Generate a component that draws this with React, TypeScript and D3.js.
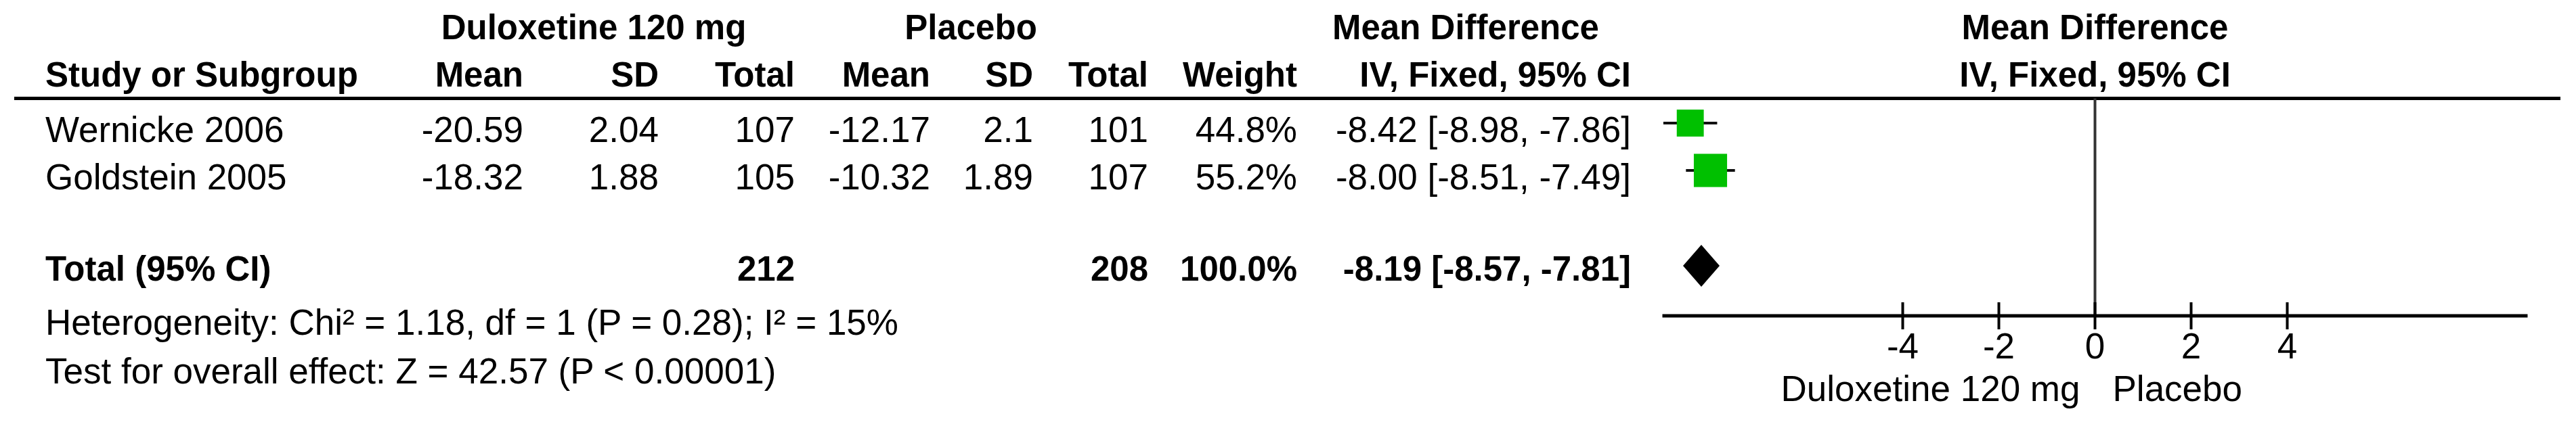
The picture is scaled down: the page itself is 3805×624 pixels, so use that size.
import React from "react";
import * as d3 from "d3";

// ---------- data ----------
const studies = ["Wernicke 2006", "Goldstein 2005"];
const expMean = ["-20.59", "-18.32"];
const expSD = ["2.04", "1.88"];
const expTotal = [107, 105];
const ctlMean = ["-12.17", "-10.32"];
const ctlSD = ["2.1", "1.89"];
const ctlTotal = [101, 107];
const weights = [44.8, 55.2];
const md = [-8.42, -8.0];
const ciLow = [-8.98, -8.51];
const ciHigh = [-7.86, -7.49];

const totalLabel = "Total (95% CI)";
const totalExp = 212;
const totalCtl = 208;
const totalWeight = 100.0;
const totalMd = -8.19;
const totalLow = -8.57;
const totalHigh = -7.81;

const heterogeneity = "Heterogeneity: Chi\u00B2 = 1.18, df = 1 (P = 0.28); I\u00B2 = 15%";
const overall = "Test for overall effect: Z = 42.57 (P < 0.00001)";

const expName = "Duloxetine 120 mg";
const ctlName = "Placebo";
const ticks = [-4, -2, 0, 2, 4];
const axisDomain = [-9, 9];

// ---------- layout ----------
const W = 3805;
const H = 624;
const FONT = "'Liberation Sans', Arial, Helvetica, sans-serif";
const FS = 53;
const FSB = 51;

const COL = {
  study: 67,
  eMean: 773,
  eSD: 973,
  eTot: 1174,
  cMean: 1374,
  cSD: 1526,
  cTot: 1696,
  weight: 1916,
  ci: 2409,
};

const HEAD1 = 58;
const HEAD2 = 128;
const RULE_Y = 145.5;
const ROW_BASE = [210, 280];
const TOTAL_BASE = 415;
const HET_BASE = 495;
const TEST_BASE = 567;
const AXIS_Y = 467;
const TICK_LABEL = 530;
const FAVOURS = 593;

const fmt2 = (v: number) => v.toFixed(2);
const ciText = (m: number, l: number, h: number) => `${fmt2(m)} [${fmt2(l)}, ${fmt2(h)}]`;

function T({ x, y, children, anchor = "start", bold = false }: any) {
  return (
    <text
      x={x}
      y={y}
      textAnchor={anchor}
      fontFamily={FONT}
      fontSize={bold ? FSB : FS}
      fontWeight={bold ? "bold" : "normal"}
      fill="#000"
    >
      {children}
    </text>
  );
}

export default function App() {
  const x = d3.scaleLinear().domain(axisDomain).range([2455.5, 3733.5]);
  const side = d3.scaleLinear().domain([0, 100]).range([0, 89]);
  const x0 = x(0);

  const diamondY = TOTAL_BASE - 22;
  const diamondH = 31;
  const diamond = d3.line()([
    [x(totalLow), diamondY],
    [x(totalMd), diamondY - diamondH],
    [x(totalHigh), diamondY],
    [x(totalMd), diamondY + diamondH],
  ]) + "Z";

  return (
    <svg
      width={W}
      height={H}
      style={{ position: "absolute", left: 0, top: 0, display: "block", background: "#fff" }}
    >
      <rect x={0} y={0} width={W} height={H} fill="#fff" />

      {/* group headers */}
      <T x={877} y={HEAD1} anchor="middle" bold>{expName}</T>
      <T x={1434} y={HEAD1} anchor="middle" bold>{ctlName}</T>
      <T x={2165} y={HEAD1} anchor="middle" bold>Mean Difference</T>
      <T x={x0} y={HEAD1} anchor="middle" bold>Mean Difference</T>

      {/* column headers */}
      <T x={COL.study} y={HEAD2} bold>Study or Subgroup</T>
      <T x={COL.eMean} y={HEAD2} anchor="end" bold>Mean</T>
      <T x={COL.eSD} y={HEAD2} anchor="end" bold>SD</T>
      <T x={COL.eTot} y={HEAD2} anchor="end" bold>Total</T>
      <T x={COL.cMean} y={HEAD2} anchor="end" bold>Mean</T>
      <T x={COL.cSD} y={HEAD2} anchor="end" bold>SD</T>
      <T x={COL.cTot} y={HEAD2} anchor="end" bold>Total</T>
      <T x={COL.weight} y={HEAD2} anchor="end" bold>Weight</T>
      <T x={COL.ci} y={HEAD2} anchor="end" bold>IV, Fixed, 95% CI</T>
      <T x={x0} y={HEAD2} anchor="middle" bold>IV, Fixed, 95% CI</T>

      {/* header rule */}
      <line x1={21} x2={3782} y1={RULE_Y} y2={RULE_Y} stroke="#000" strokeWidth={5} />

      {/* zero line */}
      <line x1={x0} x2={x0} y1={RULE_Y} y2={AXIS_Y} stroke="#333" strokeWidth={4} />

      {/* study rows */}
      {studies.map((s, i) => {
        const yb = ROW_BASE[i];
        const ym = yb - 28;
        const sz = side(weights[i]);
        return (
          <g key={s}>
            <T x={COL.study} y={yb}>{s}</T>
            <T x={COL.eMean} y={yb} anchor="end">{expMean[i]}</T>
            <T x={COL.eSD} y={yb} anchor="end">{expSD[i]}</T>
            <T x={COL.eTot} y={yb} anchor="end">{expTotal[i]}</T>
            <T x={COL.cMean} y={yb} anchor="end">{ctlMean[i]}</T>
            <T x={COL.cSD} y={yb} anchor="end">{ctlSD[i]}</T>
            <T x={COL.cTot} y={yb} anchor="end">{ctlTotal[i]}</T>
            <T x={COL.weight} y={yb} anchor="end">{weights[i].toFixed(1)}%</T>
            <T x={COL.ci} y={yb} anchor="end">{ciText(md[i], ciLow[i], ciHigh[i])}</T>
            <line x1={x(ciLow[i])} x2={x(ciHigh[i])} y1={ym} y2={ym} stroke="#111" strokeWidth={4} />
            <rect x={x(md[i]) - sz / 2} y={ym - sz / 2} width={sz} height={sz} fill="#00C000" />
          </g>
        );
      })}

      {/* total row */}
      <T x={COL.study} y={TOTAL_BASE} bold>{totalLabel}</T>
      <T x={COL.eTot} y={TOTAL_BASE} anchor="end" bold>{totalExp}</T>
      <T x={COL.cTot} y={TOTAL_BASE} anchor="end" bold>{totalCtl}</T>
      <T x={COL.weight} y={TOTAL_BASE} anchor="end" bold>{totalWeight.toFixed(1)}%</T>
      <T x={COL.ci} y={TOTAL_BASE} anchor="end" bold>{ciText(totalMd, totalLow, totalHigh)}</T>
      <path d={diamond} fill="#000" />

      <T x={COL.study} y={HET_BASE}>{heterogeneity}</T>
      <T x={COL.study} y={TEST_BASE}>{overall}</T>

      {/* axis */}
      <line x1={x(axisDomain[0])} x2={x(axisDomain[1])} y1={AXIS_Y} y2={AXIS_Y} stroke="#000" strokeWidth={5} />
      {ticks.map((t) => (
        <g key={t}>
          <line x1={x(t)} x2={x(t)} y1={AXIS_Y - 20} y2={AXIS_Y + 20} stroke="#000" strokeWidth={4} />
          <T x={x(t)} y={TICK_LABEL} anchor="middle">{String(t)}</T>
        </g>
      ))}
      <T x={x0 - 22} y={FAVOURS} anchor="end">{expName}</T>
      <T x={x0 + 26} y={FAVOURS}>{ctlName}</T>
    </svg>
  );
}
